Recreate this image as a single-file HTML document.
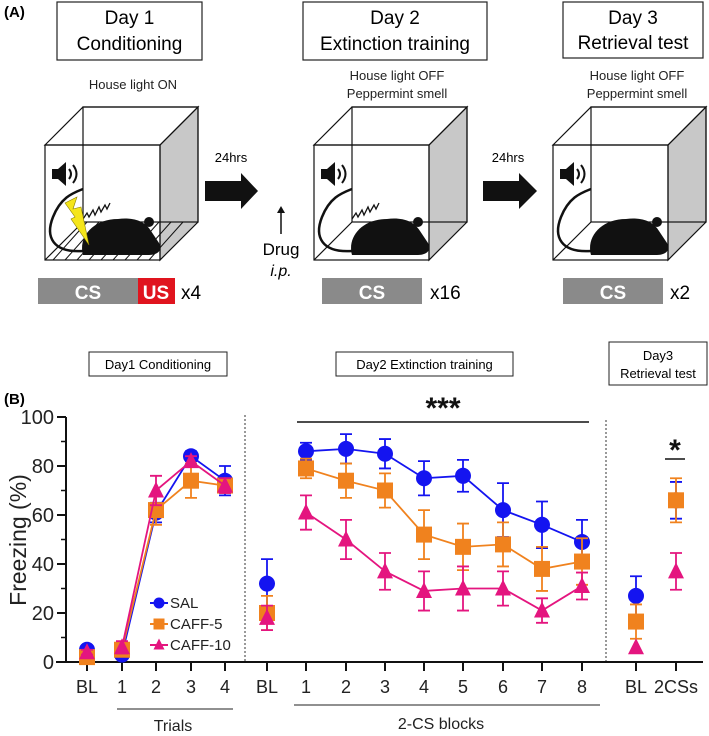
<!DOCTYPE html>
<html><head><meta charset="utf-8"><style>
html,body{margin:0;padding:0;background:#fff;}
svg{display:block;font-family:"Liberation Sans",Arial,sans-serif;}
</style></head><body>
<svg id="fig" width="709" height="736" viewBox="0 0 709 736" xmlns="http://www.w3.org/2000/svg">
<g id="panelA">
<text x="4" y="17" font-size="15" font-weight="bold">(A)</text>
<g><rect x="57" y="2" width="145" height="58" fill="#fff" stroke="#222" stroke-width="1.2"/>
<text x="129.5" y="24" font-size="19" text-anchor="middle">Day 1</text><text x="129.5" y="50" font-size="19" text-anchor="middle">Conditioning</text></g>
<g><rect x="303" y="2" width="184" height="58" fill="#fff" stroke="#222" stroke-width="1.2"/>
<text x="395" y="24" font-size="19" text-anchor="middle">Day 2</text><text x="395" y="50" font-size="19" text-anchor="middle">Extinction training</text></g>
<g><rect x="563" y="2" width="140" height="56" fill="#fff" stroke="#222" stroke-width="1.2"/>
<text x="633" y="24" font-size="19" text-anchor="middle">Day 3</text><text x="633" y="49" font-size="19" text-anchor="middle">Retrieval test</text></g>
<text x="133" y="89" font-size="13" text-anchor="middle" fill="#222">House light ON</text>
<text x="397" y="80" font-size="13" text-anchor="middle" fill="#222">House light OFF</text>
<text x="397" y="98" font-size="13" text-anchor="middle" fill="#222">Peppermint smell</text>
<text x="637" y="80" font-size="13" text-anchor="middle" fill="#222">House light OFF</text>
<text x="637" y="98" font-size="13" text-anchor="middle" fill="#222">Peppermint smell</text>
<g id="cubes"></g>
<g><text x="231" y="162" font-size="13" text-anchor="middle">24hrs</text>
<polygon points="205,181 241,181 241,173 258,191 241,209 241,201 205,201" fill="#111"/></g>
<g><text x="508" y="162" font-size="13" text-anchor="middle">24hrs</text>
<polygon points="483,181 519,181 519,173 537,191 519,209 519,201 483,201" fill="#111"/></g>
<g><line x1="281" y1="234" x2="281" y2="211" stroke="#111" stroke-width="1.5"/><polygon points="277,213 281,206 285,213" fill="#111"/>
<text x="281" y="255" font-size="17" text-anchor="middle">Drug</text><text x="281" y="276" font-size="16" font-style="italic" text-anchor="middle">i.p.</text></g>
<g><rect x="38" y="278" width="100" height="26" fill="#8a8a8a"/><text x="88" y="299" font-size="19" font-weight="bold" fill="#fff" text-anchor="middle">CS</text>
<rect x="138" y="278" width="37" height="26" fill="#e0141e"/><text x="156" y="299" font-size="19" font-weight="bold" fill="#fff" text-anchor="middle">US</text>
<text x="181" y="299" font-size="19">x4</text></g>
<g><rect x="322" y="278" width="100" height="26" fill="#8a8a8a"/><text x="372" y="299" font-size="19" font-weight="bold" fill="#fff" text-anchor="middle">CS</text><text x="430" y="299" font-size="19">x16</text></g>
<g><rect x="563" y="278" width="100" height="26" fill="#8a8a8a"/><text x="613" y="299" font-size="19" font-weight="bold" fill="#fff" text-anchor="middle">CS</text><text x="670" y="299" font-size="19">x2</text></g>
</g>
<g id="panelB">
<text x="4" y="404" font-size="15" font-weight="bold">(B)</text>
<g><rect x="89" y="352" width="138" height="24" fill="#fff" stroke="#222"/><text x="158" y="369" font-size="13" text-anchor="middle">Day1 Conditioning</text></g>
<g><rect x="336" y="352" width="177" height="24" fill="#fff" stroke="#222"/><text x="424.5" y="369" font-size="13" text-anchor="middle">Day2 Extinction training</text></g>
<g><rect x="609" y="342" width="98" height="43" fill="#fff" stroke="#222"/><text x="658" y="360" font-size="13" text-anchor="middle">Day3</text><text x="658" y="378" font-size="13" text-anchor="middle">Retrieval test</text></g>
<g id="chart"></g>
</g>
</svg>
<script>
// ---- chart data ----
const categories = ["BL","1","2","3","4","BL","1","2","3","4","5","6","7","8","BL","2CSs"];
const salMean   = [5,3,61,84,74, 32, 86,87,85,75,76,62,56,49, 27,66];
const salErr    = [1,1,4,2,6, 10, 3.5,6,6,7,6.5,11,9.5,9, 8,7.5];
const caff5Mean = [2,5,62,74,72, 20, 79,74,70,52,47,48,38,41, 16.5,66];
const caff5Err  = [1,2,6,7,3, 7, 4,7,7,10,9.5,9,9,9.5, 7,9];
const caff10Mean= [4,6,70,82,72, 18, 61,50,37,29,30,30,21,31, 6,37];
const caff10Err = [1,2.5,6,2,3, 5, 7,8,7.5,8,9,7,5,5.5, 0,7.5];
const yTicks = [0,20,40,60,80,100];
const yMinorTicks = [10,30,50,70,90];
const segments = [[1,4],[6,13]]; // connected index ranges

const NS="http://www.w3.org/2000/svg";
function mk(tag,attrs,parent){const e=document.createElementNS(NS,tag);for(const k in attrs)e.setAttribute(k,attrs[k]);parent.appendChild(e);return e;}

// ---- cubes ----
const cubesG=document.getElementById('cubes');
const cubeXs=[45,314,553];
cubeXs.forEach((fx,ci)=>{
  const g=mk('g',{},cubesG);
  
  
  const fy=145,s=115,d=38;
  mk('polygon',{points:`${fx+s},${fy} ${fx+s+d},${fy-d} ${fx+s+d},${fy+s-d} ${fx+s},${fy+s}`,fill:'#c8c8c8',stroke:'#111','stroke-width':1.2},g);
  mk('rect',{x:fx+d,y:fy-d,width:s,height:s,fill:'none',stroke:'#111','stroke-width':1.2},g);
  mk('polygon',{points:`${fx},${fy} ${fx+d},${fy-d} ${fx+s+d},${fy-d} ${fx+s},${fy}`,fill:'none',stroke:'#111','stroke-width':1.2},g);
  mk('line',{x1:fx,y1:fy+s,x2:fx+d,y2:fy+s-d,stroke:'#111','stroke-width':1.2},g);
  mk('rect',{x:fx,y:fy,width:s,height:s,fill:'none',stroke:'#111','stroke-width':1.2},g);
  if(ci===0){for(let i=1;i<10;i++){const x=fx+i*12;mk('line',{x1:x-4,y1:fy+s,x2:x+d-8,y2:fy+s-d,stroke:'#111','stroke-width':1},g);}}
  const sx=fx+7,sy=fy+20;
  mk('rect',{x:sx,y:sy+4,width:6,height:10,fill:'#111'},g);
  mk('polygon',{points:`${sx+6},${sy+4} ${sx+14},${sy-3} ${sx+14},${sy+21} ${sx+6},${sy+14}`,fill:'#111'},g);
  mk('path',{d:`M${sx+17},${sy+4} q4,5 0,10 M${sx+21},${sy} q7,9 0,18`,fill:'none',stroke:'#111','stroke-width':2},g);
  const mx=fx+38,my=fy+72;
  mk('path',{d:`M${mx},${my+38} C${mx-5},${my+20} ${mx+10},${my+2} ${mx+35},${my+2} C${mx+50},${my} ${mx+62},${my+4} ${mx+68},${my+14} L${mx+76},${my+26} C${mx+80},${my+34} ${mx+74},${my+38} ${mx+66},${my+38} Z`,fill:'#111'},g);
  mk('circle',{cx:mx+66,cy:my+5,r:5,fill:'#111'},g);
  mk('path',{d:`M${mx},${my+34} C${mx-30},${my+36} ${mx-38},${my+20} ${mx-30},${my} C${mx-22},${my-20} ${mx-10},${my-24} ${mx},${my-28}`,fill:'none',stroke:'#111','stroke-width':2.5},g);
  if(ci<2){mk('path',{d:`M${mx},${my+2} l4,-6 l2,4 l4,-7 l2,5 l4,-8 l2,5 l4,-7 l2,4 l3,-6`,fill:'none',stroke:'#111','stroke-width':1.3},g);}
  if(ci===0){mk('polygon',{points:`${mx-18},${my-14} ${mx-6},${my-20} ${mx-10},${my-8} ${mx-2},${my-10} ${mx+6},${my+28} ${mx-12},${my+2} ${mx-8},${my} `,fill:'#f5e51a',stroke:'#8a7d00','stroke-width':0.6},g);}
});

// ---- chart ----
const chart=document.getElementById('chart');
const xPos=[87,122,156,191,225, 267, 306,346,385,424,463,503,542,582, 636,676];
function yScale(v){return 662-v*2.45;}
function xScale(i){return xPos[i];}

const yAxis=mk('line',{x1:66,y1:417,x2:66,y2:663,stroke:'#111','stroke-width':2},chart);


const xAxis=mk('line',{x1:56,y1:662,x2:703,y2:662,stroke:'#111','stroke-width':2},chart);


yTicks.forEach(t=>{
  mk('line',{x1:57,y1:yScale(t),x2:66,y2:yScale(t),stroke:'#111','stroke-width':2},chart);
  const lb=mk('text',{x:54,y:yScale(t)+7,'font-size':20,'text-anchor':'end',fill:'#222'},chart);
  lb.textContent=t;
  
  
});
yMinorTicks.forEach(t=>{mk('line',{x1:61,y1:yScale(t),x2:66,y2:yScale(t),stroke:'#111','stroke-width':1.5},chart);});
categories.forEach((c,i)=>{
  mk('line',{x1:xScale(i),y1:662,x2:xScale(i),y2:671,stroke:'#111','stroke-width':2},chart);
  const lb=mk('text',{x:xScale(i),y:693,'font-size':18,'text-anchor':'middle',fill:'#222'},chart);
  lb.textContent=c;
  
  
});
const yt=mk('text',{x:0,y:0,'font-size':23,'text-anchor':'middle',fill:'#222',transform:'translate(26,540) rotate(-90)'},chart);
yt.textContent='Freezing (%)';


mk('line',{x1:245,y1:415,x2:245,y2:661,stroke:'#333','stroke-width':1,'stroke-dasharray':'2,2'},chart);
mk('line',{x1:606,y1:420,x2:606,y2:661,stroke:'#333','stroke-width':1,'stroke-dasharray':'2,2'},chart);
const gl=mk('g',{},chart);


mk('line',{x1:117,y1:709,x2:233,y2:709,stroke:'#222','stroke-width':1},gl);
mk('text',{x:173,y:731,'font-size':16,'text-anchor':'middle',fill:'#222'},gl).textContent='Trials';
mk('line',{x1:294,y1:705,x2:600,y2:705,stroke:'#222','stroke-width':1},gl);
mk('text',{x:441,y:729,'font-size':16,'text-anchor':'middle',fill:'#222'},gl).textContent='2-CS blocks';
const sg=mk('g',{},chart);


mk('line',{x1:297,y1:422,x2:589,y2:422,stroke:'#111','stroke-width':1.5},sg);
mk('text',{x:443,y:418,'font-size':30,'font-weight':'bold','text-anchor':'middle',fill:'#111'},sg).textContent='***';
mk('line',{x1:665,y1:459,x2:685,y2:459,stroke:'#111','stroke-width':1.5},sg);
mk('text',{x:675,y:460,'font-size':30,'font-weight':'bold','text-anchor':'middle',fill:'#111'},sg).textContent='*';

const series=[
  {name:'SAL',mean:salMean,err:salErr,color:'#1414f0',shape:'circle'},
  {name:'CAFF-5',mean:caff5Mean,err:caff5Err,color:'#f0821e',shape:'square'},
  {name:'CAFF-10',mean:caff10Mean,err:caff10Err,color:'#e4157f',shape:'triangle'}
];
function marker(g,shape,x,y,color,s){
  if(shape==='circle')return mk('circle',{cx:x,cy:y,r:s,fill:color},g);
  if(shape==='square')return mk('rect',{x:x-s,y:y-s,width:2*s,height:2*s,fill:color},g);
  return mk('polygon',{points:`${x},${y-s-1} ${x+s},${y+s-1} ${x-s},${y+s-1}`,fill:color},g);
}
series.forEach(sr=>{
  const g=mk('g',{},chart);
  
  
  segments.forEach(([a,b])=>{
    let pts=[];for(let i=a;i<=b;i++)pts.push(xScale(i)+','+yScale(sr.mean[i]));
    mk('polyline',{points:pts.join(' '),fill:'none',stroke:sr.color,'stroke-width':1.8},g);
  });
  sr.mean.forEach((v,i)=>{
    const e=sr.err[i],x=xScale(i);
    if(e>0){
      const eb=mk('path',{d:`M${x},${yScale(v+e)} V${yScale(v-e)} M${x-6},${yScale(v+e)} h12 M${x-6},${yScale(v-e)} h12`,stroke:sr.color,'stroke-width':1.8,fill:'none'},g);
      
      
    }
    const m=marker(g,sr.shape,x,yScale(v),sr.color,8);
    
    
  });
});
const lg=mk('g',{},chart);


series.forEach((sr,k)=>{
  const y=603+k*21;
  const le=mk('g',{},lg);
  
  
  mk('line',{x1:150,y1:y,x2:168,y2:y,stroke:sr.color,'stroke-width':2},le);
  marker(le,sr.shape,159,y,sr.color,5.5);
  mk('text',{x:170,y:y+5,'font-size':15,fill:'#222'},le).textContent=sr.name;
});
</script>
</body></html>
